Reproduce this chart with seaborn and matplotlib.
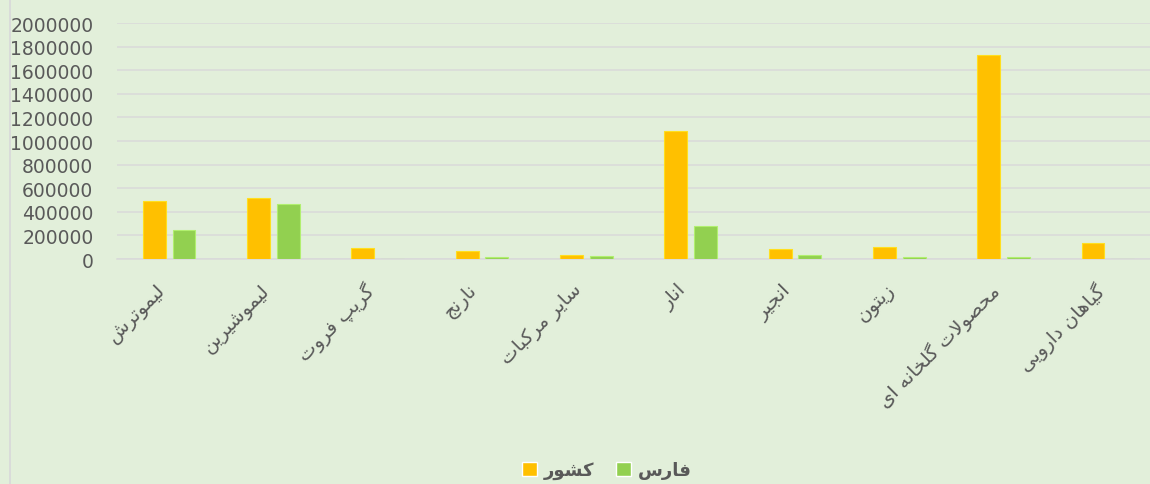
"""
Production of horticultural crops: whole country vs. Fars province
"""
# %% IMPORT LIBRARIES
import pandas as pd
import matplotlib
matplotlib.use("Agg")
import matplotlib.pyplot as plt
import matplotlib.transforms as mtransforms
from matplotlib.patches import Patch
from matplotlib.lines import Line2D
import seaborn as sns

sns.set_style("white")
plt.rcParams['font.family'] = ['DejaVu Sans']

# %% DATA
crops = ["لیموترش", "لیموشیرین", "گریپ فروت", "نارنج", "سایر مرکبات",
         "انار", "انجیر", "زیتون", "محصولات گلخانه ای", "گیاهان دارویی"]
keshvar = [495000, 520000, 95000, 65000, 37000,
           1085000, 85000, 102000, 1730000, 135000]
fars = [245000, 465000, 3000, 17000, 22000,
        280000, 32000, 17000, 20000, 3000]
series_names = ["کشور", "فارس"]
y_ticks = list(range(0, 2000001, 200000))

orange = "#FFC000"
green = "#92D050"
background = "#E2EFDA"
grid_color = "#D9D9D9"
text_color = "#595959"

# %% Persian shaping (matplotlib has no text shaping / bidi)
# isolated, final, initial, medial
FORMS = {
    "ا": ("\uFE8D", "\uFE8E", None, None),
    "ب": ("\uFE8F", "\uFE90", "\uFE91", "\uFE92"),
    "پ": ("\uFB56", "\uFB57", "\uFB58", "\uFB59"),
    "ت": ("\uFE95", "\uFE96", "\uFE97", "\uFE98"),
    "ج": ("\uFE9D", "\uFE9E", "\uFE9F", "\uFEA0"),
    "ح": ("\uFEA1", "\uFEA2", "\uFEA3", "\uFEA4"),
    "خ": ("\uFEA5", "\uFEA6", "\uFEA7", "\uFEA8"),
    "د": ("\uFEA9", "\uFEAA", None, None),
    "ر": ("\uFEAD", "\uFEAE", None, None),
    "ز": ("\uFEAF", "\uFEB0", None, None),
    "س": ("\uFEB1", "\uFEB2", "\uFEB3", "\uFEB4"),
    "ش": ("\uFEB5", "\uFEB6", "\uFEB7", "\uFEB8"),
    "ص": ("\uFEB9", "\uFEBA", "\uFEBB", "\uFEBC"),
    "ف": ("\uFED1", "\uFED2", "\uFED3", "\uFED4"),
    "ک": ("\uFB8E", "\uFB8F", "\uFB90", "\uFB91"),
    "گ": ("\uFB92", "\uFB93", "\uFB94", "\uFB95"),
    "ل": ("\uFEDD", "\uFEDE", "\uFEDF", "\uFEE0"),
    "م": ("\uFEE1", "\uFEE2", "\uFEE3", "\uFEE4"),
    "ن": ("\uFEE5", "\uFEE6", "\uFEE7", "\uFEE8"),
    "ه": ("\uFEE9", "\uFEEA", "\uFEEB", "\uFEEC"),
    "و": ("\uFEED", "\uFEEE", None, None),
    "ی": ("\uFBFC", "\uFBFD", "\uFBFE", "\uFBFF"),
}


def joins_next(ch):
    return ch in FORMS and FORMS[ch][2] is not None


def shape(text):
    out = []
    i = 0
    while i < len(text):
        ch = text[i]
        prev = text[i - 1] if i > 0 else ""
        nxt = text[i + 1] if i + 1 < len(text) else ""
        if ch not in FORMS:
            out.append(ch)
            i += 1
            continue
        # lam-alef ligature
        if ch == "ل" and nxt == "ا":
            out.append("\uFEFC" if joins_next(prev) else "\uFEFB")
            i += 2
            continue
        p = joins_next(prev)
        n = joins_next(ch) and nxt in FORMS
        iso, fin, ini, med = FORMS[ch]
        if p and n:
            out.append(med)
        elif p:
            out.append(fin)
        elif n:
            out.append(ini)
        else:
            out.append(iso)
        i += 1
    return "".join(out)[::-1]


# %% Build table
df = pd.DataFrame({
    "crop": crops * 2,
    "value": keshvar + fars,
    "region": [series_names[0]] * len(crops) + [series_names[1]] * len(crops),
})

# %% Plot
fig = plt.figure(figsize=(11.5, 4.85), dpi=100, facecolor=background)
ax = fig.add_axes([117 / 1150, 225 / 485, 1043 / 1150, 236 / 485])
ax.set_facecolor(background)

sns.barplot(data=df, x="crop", y="value", hue="region", order=crops,
            hue_order=series_names, palette=[orange, green], saturation=1,
            width=0.57, gap=0.23, legend=False, ax=ax, zorder=3)
# light outline like the original bars
for patch in ax.patches:
    fc = patch.get_facecolor()
    patch.set_edgecolor([min(1, c + 0.12) for c in fc[:3]])
    patch.set_linewidth(0.8)

ax.set_xlim(-0.5, len(crops) - 0.5)
ax.set_ylim(0, 2000000)
ax.set_yticks(y_ticks)
ax.set_yticklabels([str(t) for t in y_ticks])
ax.grid(True, axis="y", color=grid_color, linewidth=1.1, zorder=0)
ax.set_axisbelow(True)
ax.set_xlabel("")
ax.set_ylabel("")

for side in ["top", "right", "left"]:
    ax.spines[side].set_visible(False)
ax.spines["bottom"].set_color(grid_color)
ax.spines["bottom"].set_linewidth(1.1)

ax.tick_params(axis="y", length=0, pad=17, labelsize=13.5, labelcolor=text_color)
ax.set_xticks(range(len(crops)))
ax.set_xticklabels([shape(c) for c in crops], rotation=45, ha="right",
                   rotation_mode="anchor", fontsize=14, color=text_color)
ax.tick_params(axis="x", which="major", length=0, pad=15)
ax.set_xticks([i - 0.5 for i in range(len(crops) + 1)], minor=True)
ax.tick_params(axis="x", which="minor", length=6, width=1.1, color=grid_color)
shift = mtransforms.ScaledTranslation(-0.14, 0, fig.dpi_scale_trans)
for lbl in ax.get_xticklabels():
    lbl.set_transform(lbl.get_transform() + shift)

# legend
handles = [Patch(facecolor=orange, label=shape(series_names[0])),
           Patch(facecolor=green, label=shape(series_names[1]))]
leg = fig.legend(handles=handles, loc="center", bbox_to_anchor=(607 / 1150, 14 / 485),
                 ncol=2, frameon=False, handlelength=0.8, handleheight=0.8,
                 handletextpad=0.4, columnspacing=1.2,
                 prop={"size": 13, "weight": "bold"})
for t in leg.get_texts():
    t.set_color(text_color)

# chart border on the left
fig.add_artist(Line2D([10 / 1150, 10 / 1150], [0, 1], color=grid_color, linewidth=1.3))

plt.savefig("out.png", dpi=100, facecolor=background)
